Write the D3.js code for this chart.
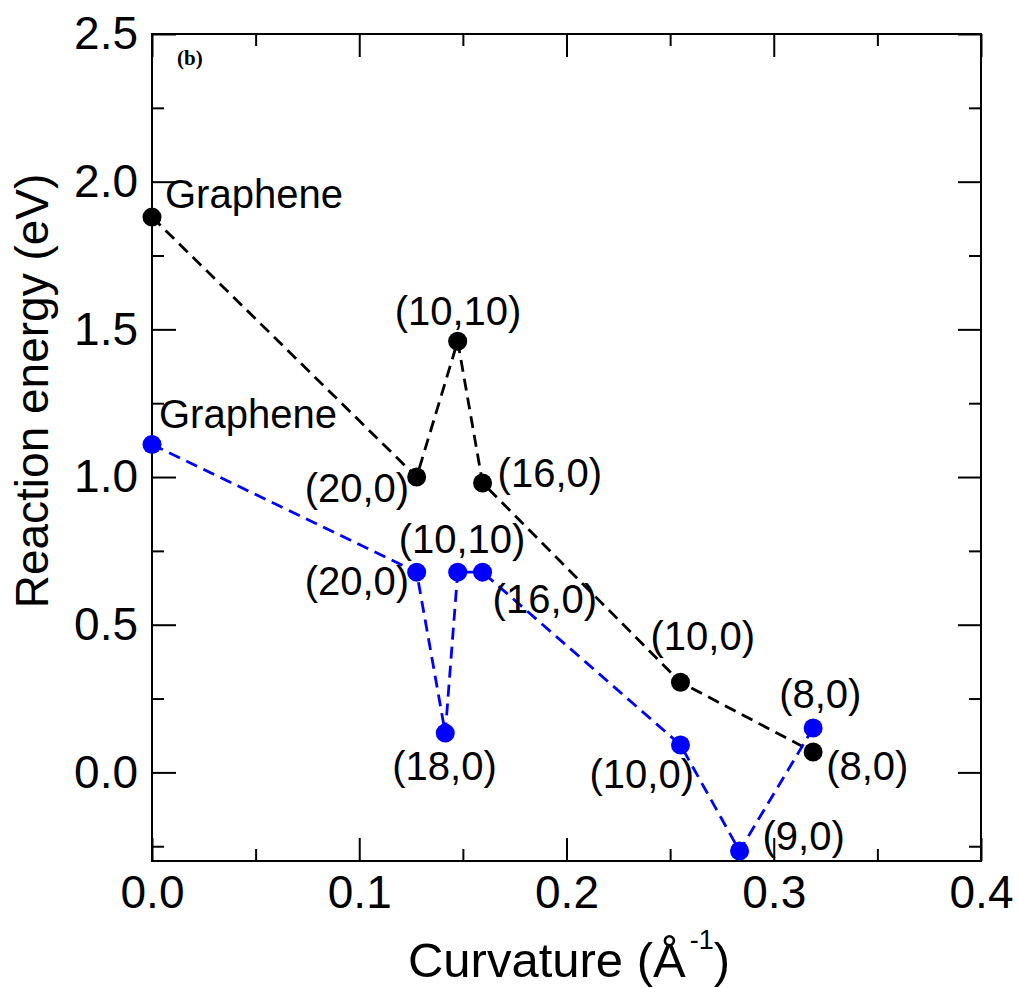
<!DOCTYPE html>
<html>
<head>
<meta charset="utf-8">
<script src="https://cdn.jsdelivr.net/npm/d3@7"></script>
<style>
  html, body { margin: 0; padding: 0; background: #fff; }
  svg text { font-family: "Liberation Sans", Arial, Helvetica, sans-serif; fill: #000; }
</style>
</head>
<body>
<svg id="chart" width="1019" height="988"></svg>
<script>
// curvature (1/Angstrom) and reaction energy (eV)
var blackLabels = ['Graphene', '(20,0)', '(10,10)', '(16,0)', '(10,0)', '(8,0)'];
var blackCurv   = [0.0, 0.1277, 0.1475, 0.1595, 0.255, 0.319];
var blackEnergy = [1.88, 1.00, 1.46, 0.98, 0.305, 0.069];

var blueLabels = ['Graphene', '(20,0)', '(18,0)', '(10,10)', '(16,0)', '(10,0)', '(9,0)', '(8,0)'];
var blueCurv   = [0.0, 0.1277, 0.1415, 0.1475, 0.1595, 0.255, 0.2835, 0.319];
var blueEnergy = [1.11, 0.678, 0.133, 0.678, 0.678, 0.093, -0.266, 0.15];

var xTicks = [0.0, 0.1, 0.2, 0.3, 0.4];
var xMinor = [0.05, 0.15, 0.25, 0.35];
var yTicks = [0.0, 0.5, 1.0, 1.5, 2.0, 2.5];
var yMinor = [-0.25, 0.25, 0.75, 1.25, 1.75, 2.25];

// label placement, pixel offsets from each point (text anchored at start)
var blackOffsets = [[13, -9], [-112, 25], [-63, -16], [15, 4], [-30, -32], [13, 28]];
var blueOffsets  = [[7, -17], [-112, 23], [-53, 47], [-59, -19], [10, 41], [-91, 43], [23, -1], [-34, -20]];

var margin = {left: 152, top: 34, right: 38, bottom: 127};
var width = 1019 - margin.left - margin.right;
var height = 988 - margin.top - margin.bottom;

var svg = d3.select('#chart');
var g = svg.append('g')
  .attr('transform', 'translate(' + margin.left + ',' + margin.top + ')');

var xScale = d3.scaleLinear().domain([0, 0.4]).range([0, width]);
var yScale = d3.scaleLinear().domain([-0.3, 2.5]).range([height, 0]);

/* Helper: inward ticks on one side, labels only where asked */
function drawAxis(axisFn, scale, values, size, labels, transform) {
  var axis = axisFn(scale)
    .tickValues(values)
    .tickSize(-size)
    .tickPadding(14);
  if (!labels) axis.tickFormat('');
  else axis.tickFormat(d3.format('.1f'));
  var a = g.append('g')
    .attr('transform', transform || null)
    .call(axis);
  a.select('.domain').remove();
  a.selectAll('line').attr('stroke', '#000').attr('stroke-width', 2);
  a.selectAll('text').attr('font-size', '46px').attr('fill', '#000')
    .style('font-family', '"Liberation Sans", Arial, sans-serif');
  return a;
}

drawAxis(d3.axisBottom, xScale, xTicks, 23, true, 'translate(0,' + height + ')');
drawAxis(d3.axisBottom, xScale, xMinor, 12, false, 'translate(0,' + height + ')');
drawAxis(d3.axisTop, xScale, xTicks, 23, false);
drawAxis(d3.axisTop, xScale, xMinor, 12, false);
drawAxis(d3.axisLeft, yScale, yTicks, 24, true);
drawAxis(d3.axisLeft, yScale, yMinor, 12, false);
drawAxis(d3.axisRight, yScale, yTicks, 23, false, 'translate(' + width + ',0)');
drawAxis(d3.axisRight, yScale, yMinor, 12, false, 'translate(' + width + ',0)');

// frame
g.append('rect')
  .attr('x', 0).attr('y', 0)
  .attr('width', width).attr('height', height)
  .attr('fill', 'none')
  .attr('stroke', '#000')
  .attr('stroke-width', 2);

function series(xs, ys, names, offsets, color) {
  var pts = xs.map(function(x, i) {
    return {x: x, y: ys[i], name: names[i], off: offsets[i]};
  });

  var line = d3.line()
    .x(function(d) { return xScale(d.x); })
    .y(function(d) { return yScale(d.y); });

  g.append('path')
    .datum(pts)
    .attr('d', line)
    .attr('fill', 'none')
    .attr('stroke', color)
    .attr('stroke-width', 2.8)
    .attr('stroke-dasharray', '12,7');

  g.selectAll(null)
    .data(pts)
    .enter()
    .append('circle')
    .attr('cx', function(d) { return xScale(d.x); })
    .attr('cy', function(d) { return yScale(d.y); })
    .attr('r', 9.5)
    .attr('fill', color);

  g.selectAll(null)
    .data(pts)
    .enter()
    .append('text')
    .attr('x', function(d) { return xScale(d.x) + d.off[0]; })
    .attr('y', function(d) { return yScale(d.y) + d.off[1]; })
    .attr('font-size', '40px')
    .text(function(d) { return d.name; });
}

series(blackCurv, blackEnergy, blackLabels, blackOffsets, '#000000');
series(blueCurv, blueEnergy, blueLabels, blueOffsets, '#0000ff');

// panel tag
g.append('text')
  .attr('x', 25)
  .attr('y', 31)
  .attr('font-size', '21px')
  .attr('font-weight', 'bold')
  .style('font-family', '"Liberation Serif", "Times New Roman", serif')
  .text('(b)');

// axis titles
var xt = svg.append('text')
  .attr('x', 569)
  .attr('y', 977)
  .attr('text-anchor', 'middle')
  .attr('font-size', '49px');
xt.append('tspan').text('Curvature (Å');
xt.append('tspan').attr('font-size', '27px').attr('dx', 4).attr('dy', -28).text('-1');
xt.append('tspan').attr('dy', 28).text(')');

svg.append('text')
  .attr('transform', 'translate(48,391) rotate(-90)')
  .attr('text-anchor', 'middle')
  .attr('font-size', '46px')
  .text('Reaction energy (eV)');
</script>
</body>
</html>
